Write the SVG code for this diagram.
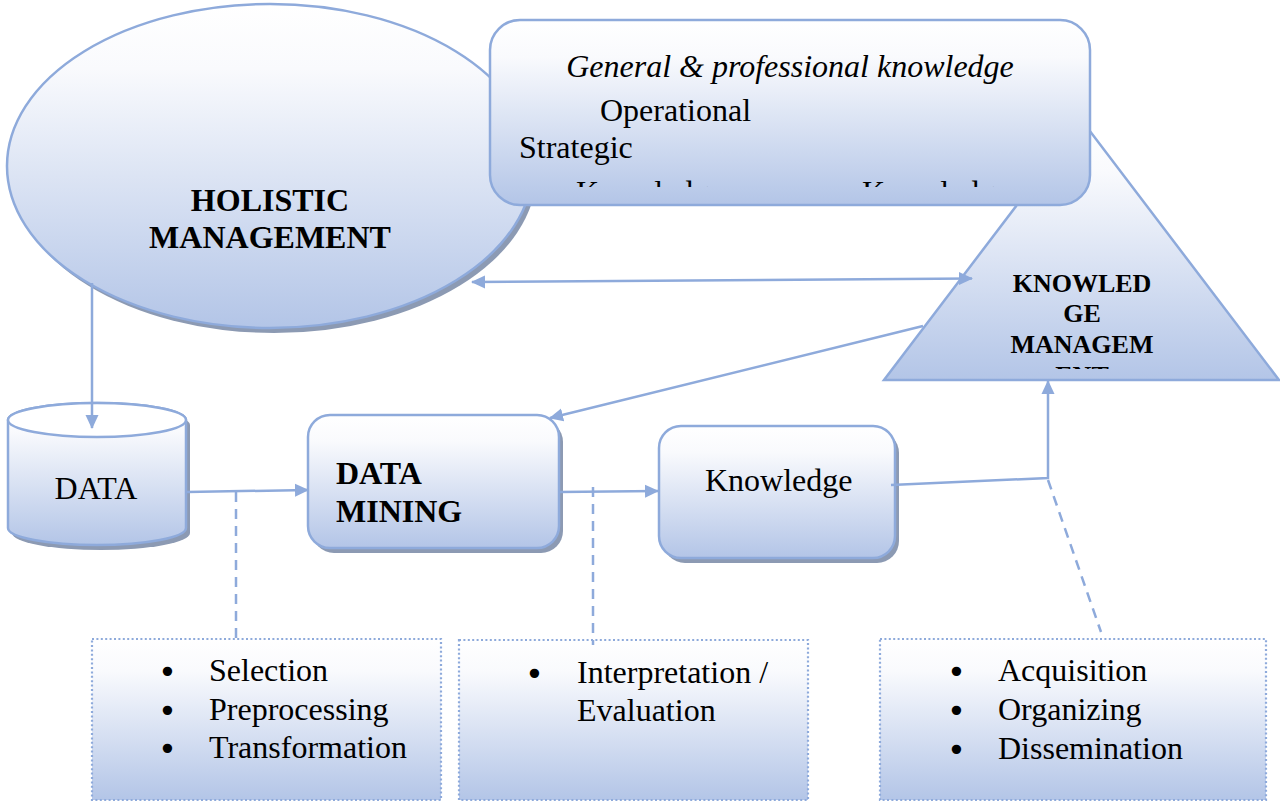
<svg xmlns="http://www.w3.org/2000/svg" width="1280" height="803" viewBox="0 0 1280 803">
<defs>
<linearGradient id="g" x1="0" y1="0" x2="0" y2="1">
<stop offset="0" stop-color="#ffffff"/>
<stop offset="0.2" stop-color="#f9fafd"/>
<stop offset="1" stop-color="#b3c5e7"/>
</linearGradient>
<marker id="ah" viewBox="0 0 14 14" markerWidth="14" markerHeight="14" refX="13" refY="7" orient="auto-start-reverse" markerUnits="userSpaceOnUse">
<path d="M0,0.5 L14,7 L0,13.5 Z" fill="#8eaadb"/>
</marker>
<clipPath id="clipTop"><rect x="490" y="20" width="600" height="167"/></clipPath>
<clipPath id="clipTri"><rect x="880" y="100" width="400" height="269"/></clipPath>
</defs>
<style>
.shape{fill:url(#g);stroke:#8eaadb;stroke-width:2.5}
.shadow{fill:#8c9ab3}
.dot{fill:url(#g);stroke:#8eaadb;stroke-width:2.2;stroke-dasharray:2 2.4}
.conn{fill:none;stroke:#8eaadb;stroke-width:2.5}
.arrow{marker-end:url(#ah)}
.dash{fill:none;stroke:#8eaadb;stroke-width:2.5;stroke-dasharray:10 7}
text{font-family:"Liberation Serif","Times New Roman",serif;fill:#000}
.t{font-size:32px}
text.bl{font-family:"DejaVu Sans",sans-serif;font-size:32px}
.b{font-size:32px;font-weight:bold}
.bs{font-size:26px;font-weight:bold}
.i{font-size:32px;font-style:italic}
</style>

<g id="holistic-management">
<ellipse class="shadow" cx="274" cy="171" rx="263" ry="162"/>
<ellipse class="shape" cx="270" cy="166" rx="263" ry="162"/>
<text class="b" x="270" y="211" text-anchor="middle">HOLISTIC</text>
<text class="b" x="270" y="248" text-anchor="middle">MANAGEMENT</text>
</g>

<g id="knowledge-management">
<polygon class="shape" points="884,380 1081.5,120 1279,380"/>
<g clip-path="url(#clipTri)">
<text class="bs" x="1082" y="292" text-anchor="middle">KNOWLED</text>
<text class="bs" x="1082" y="322" text-anchor="middle">GE</text>
<text class="bs" x="1082" y="353" text-anchor="middle">MANAGEM</text>
<text class="bs" x="1082" y="384" text-anchor="middle">ENT</text>
</g>
</g>

<g id="knowledge-types">
<rect class="shape" x="490" y="20" width="600" height="185" rx="30"/>
<text class="i" x="790" y="77" text-anchor="middle">General &amp; professional knowledge</text>
<text class="t" x="600" y="121">Operational</text>
<text class="t" x="519" y="158">Strategic</text>
<g clip-path="url(#clipTop)">
<text class="t" x="576" y="203">Knowledge</text>
<text class="t" x="862" y="203">Knowledge</text>
</g>
</g>

<g id="data">
<path class="shadow" d="M12,425 A89,17 0 0 1 190,425 L190,533 A89,17 0 0 1 12,533 Z"/>
<path class="shape" d="M8,420 A89,17 0 0 1 186,420 L186,528 A89,17 0 0 1 8,528 Z"/>
<ellipse cx="97" cy="420" rx="89" ry="17" fill="#ffffff" stroke="#8eaadb" stroke-width="2.5"/>
<text class="t" x="96" y="499" text-anchor="middle">DATA</text>
</g>

<g id="data-mining">
<rect class="shadow" x="312" y="420" width="251" height="133" rx="22"/>
<rect class="shape" x="308" y="415" width="251" height="133" rx="22"/>
<text class="b" x="336" y="484">DATA</text>
<text class="b" x="336" y="522">MINING</text>
</g>

<g id="knowledge">
<rect class="shadow" x="663" y="431" width="236" height="132" rx="22"/>
<rect class="shape" x="659" y="426" width="236" height="132" rx="22"/>
<text class="t" x="705" y="491">Knowledge</text>
</g>

<g id="box-preprocessing">
<rect class="dot" x="92" y="639" width="349" height="161"/>
<text class="bl" x="158" y="683">•</text>
<text class="t" x="209" y="681">Selection</text>
<text class="bl" x="158" y="722">•</text>
<text class="t" x="209" y="720">Preprocessing</text>
<text class="bl" x="158" y="760">•</text>
<text class="t" x="209" y="758">Transformation</text>
</g>

<g id="box-interpretation">
<rect class="dot" x="459" y="640" width="349" height="160"/>
<text class="bl" x="525" y="685">•</text>
<text class="t" x="577" y="683">Interpretation /</text>
<text class="t" x="577" y="721">Evaluation</text>
</g>

<g id="box-km-processes">
<rect class="dot" x="880" y="639" width="386" height="161"/>
<text class="bl" x="947" y="683">•</text>
<text class="t" x="998" y="681">Acquisition</text>
<text class="bl" x="947" y="722">•</text>
<text class="t" x="998" y="720">Organizing</text>
<text class="bl" x="947" y="761">•</text>
<text class="t" x="998" y="759">Dissemination</text>
</g>

<g id="connectors">
<line class="conn arrow" x1="92" y1="283" x2="92" y2="428"/>
<line class="conn arrow" x1="187" y1="492" x2="308" y2="490"/>
<line class="conn arrow" x1="559" y1="492" x2="658" y2="491"/>
<polyline class="conn arrow" points="891,485 1048,478 1048,381"/>
<line class="conn arrow" x1="923" y1="326" x2="550" y2="418"/>
<line class="conn arrow" x1="472" y1="282" x2="972" y2="278.5" marker-start="url(#ah)"/>
<line class="dash" x1="236" y1="492" x2="236" y2="638"/>
<line class="dash" x1="593" y1="487" x2="593" y2="645"/>
<line class="dash" x1="1048" y1="480" x2="1101" y2="632"/>
</g>
</svg>
